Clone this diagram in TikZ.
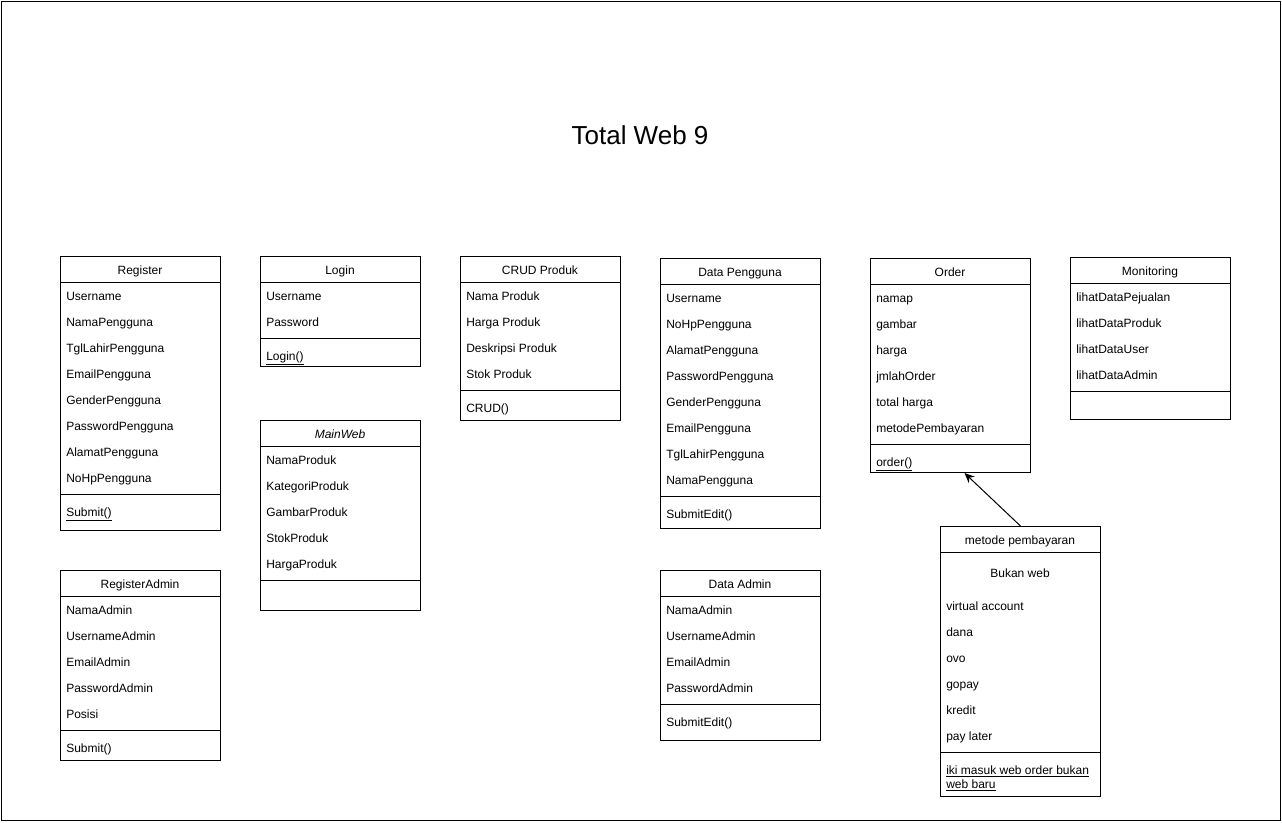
\documentclass[tikz,border=0pt]{standalone}
\usepackage{fontspec}
\setmainfont{Liberation Sans}
\usetikzlibrary{arrows.meta,positioning}
\tikzset{
  cls/.style={draw=black,rectangle,anchor=north west,minimum width=120pt,inner sep=0pt,line width=0.75pt},
  head/.style={anchor=base,inner sep=0pt,yshift=-0.75pt,font=\fontsize{9}{10.8}\selectfont},
  attr/.style={anchor=base west,inner sep=0pt,yshift=-0.75pt,font=\fontsize{9}{10.8}\selectfont},
  sepline/.style={line width=0.75pt},
  arr/.style={-{Stealth[length=7.5pt,width=6.5pt]},line width=0.75pt}
}

\begin{document}
\begin{tikzpicture}[x=0.75pt,y=-0.75pt]
\useasboundingbox (0,0) rectangle (1282,822);
\draw[line width=0.75pt] (1,1) rectangle (1280,820);
\node (title) [font=\fontsize{19.5}{23.4}\selectfont] at (640,135) {Total Web 9};
% Register
\node (reg) [cls,minimum height=205.5pt] at (60,256) {};
\node (reg-h) [head] at (140,273) {Register};
\draw[sepline] (60,282) -- (220,282);
\foreach \t [count=\i] in {Username,NamaPengguna,TglLahirPengguna,EmailPengguna,GenderPengguna,PasswordPengguna,AlamatPengguna,NoHpPengguna}
  \node (reg-\i) [attr] at (66,273+26*\i) {\t};
\draw[sepline] (60,494) -- (220,494);
\node (reg-m) [attr] at (66,515) {\underline{Submit()}};
% RegisterAdmin
\node (rega) [cls,minimum height=142.5pt] at (60,570) {};
\node (rega-h) [head] at (140,587) {RegisterAdmin};
\draw[sepline] (60,596) -- (220,596);
\foreach \t [count=\i] in {NamaAdmin,UsernameAdmin,EmailAdmin,PasswordAdmin,Posisi}
  \node (rega-\i) [attr] at (66,587+26*\i) {\t};
\draw[sepline] (60,730) -- (220,730);
\node (rega-m) [attr] at (66,751) {Submit()};
% Login
\node (log) [cls,minimum height=82.5pt] at (260,256) {};
\node (log-h) [head] at (340,273) {Login};
\draw[sepline] (260,282) -- (420,282);
\foreach \t [count=\i] in {Username,Password}
  \node (log-\i) [attr] at (266,273+26*\i) {\t};
\draw[sepline] (260,338) -- (420,338);
\node (log-m) [attr] at (266,359) {\underline{Login()}};
% MainWeb
\node (main) [cls,minimum height=142.5pt] at (260,420) {};
\node (main-h) [head,font=\fontsize{9}{10.8}\selectfont\itshape] at (340,437) {MainWeb};
\draw[sepline] (260,446) -- (420,446);
\foreach \t [count=\i] in {NamaProduk,KategoriProduk,GambarProduk,StokProduk,HargaProduk}
  \node (main-\i) [attr] at (266,437+26*\i) {\t};
\draw[sepline] (260,580) -- (420,580);
% CRUD Produk
\node (crud) [cls,minimum height=123pt] at (460,256) {};
\node (crud-h) [head] at (540,273) {CRUD Produk};
\draw[sepline] (460,282) -- (620,282);
\foreach \t [count=\i] in {Nama Produk,Harga Produk,Deskripsi Produk,Stok Produk}
  \node (crud-\i) [attr] at (466,273+26*\i) {\t};
\draw[sepline] (460,390) -- (620,390);
\node (crud-m) [attr] at (466,411) {CRUD()};
% Data Pengguna
\node (dp) [cls,minimum height=202.5pt] at (660,258) {};
\node (dp-h) [head] at (740,275) {Data Pengguna};
\draw[sepline] (660,284) -- (820,284);
\foreach \t [count=\i] in {Username,NoHpPengguna,AlamatPengguna,PasswordPengguna,GenderPengguna,EmailPengguna,TglLahirPengguna,NamaPengguna}
  \node (dp-\i) [attr] at (666,275+26*\i) {\t};
\draw[sepline] (660,496) -- (820,496);
\node (dp-m) [attr] at (666,517) {SubmitEdit()};
% Data Admin
\node (da) [cls,minimum height=127.5pt] at (660,570) {};
\node (da-h) [head] at (740,587) {Data Admin};
\draw[sepline] (660,596) -- (820,596);
\foreach \t [count=\i] in {NamaAdmin,UsernameAdmin,EmailAdmin,PasswordAdmin}
  \node (da-\i) [attr] at (666,587+26*\i) {\t};
\draw[sepline] (660,704) -- (820,704);
\node (da-m) [attr] at (666,725) {SubmitEdit()};
% Order
\node (ord) [cls,minimum height=160.5pt] at (870,258) {};
\node (ord-h) [head] at (950,275) {Order};
\draw[sepline] (870,284) -- (1030,284);
\foreach \t [count=\i] in {namap,gambar,harga,jmlahOrder,total harga,metodePembayaran}
  \node (ord-\i) [attr] at (876,275+26*\i) {\t};
\draw[sepline] (870,444) -- (1030,444);
\node (ord-m) [attr] at (876,465) {\underline{order()}};
% Monitoring
\node (mon) [cls,minimum height=121.5pt] at (1070,257) {};
\node (mon-h) [head] at (1150,274) {Monitoring};
\draw[sepline] (1070,283) -- (1230,283);
\foreach \t [count=\i] in {lihatDataPejualan,lihatDataProduk,lihatDataUser,lihatDataAdmin}
  \node (mon-\i) [attr] at (1076,274+26*\i) {\t};
\draw[sepline] (1070,391) -- (1230,391);
% metode pembayaran
\node (pay) [cls,minimum height=202.5pt] at (940,526) {};
\node (pay-h) [head] at (1020,543) {metode pembayaran};
\draw[sepline] (940,552) -- (1100,552);
\node (pay-note) [head] at (1020,576) {Bukan web};
\foreach \t [count=\i] in {virtual account,dana,ovo,gopay,kredit,pay later}
  \node (pay-\i) [attr] at (946,583+26*\i) {\t};
\draw[sepline] (940,752) -- (1100,752);
\node (pay-m1) [attr] at (946,773) {\underline{iki masuk web order bukan}};
\node (pay-m2) [attr] at (946,787) {\underline{web baru}};
%
\path[arr] (pay.north) edge ([xshift=10.5pt]ord.south);
\end{tikzpicture}
\end{document}
